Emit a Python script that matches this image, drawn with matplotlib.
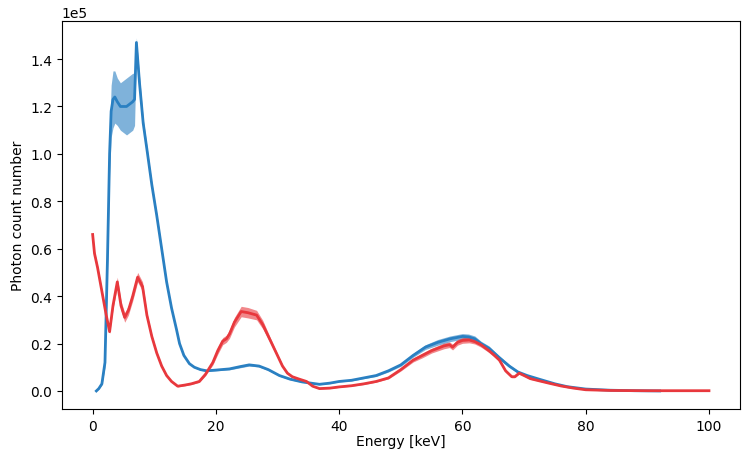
"""Mean photon spectra with +/- std band for two detector settings."""

import matplotlib

matplotlib.use("Agg")
import matplotlib.pyplot as plt
import numpy as np

# blue spectrum (keV, counts / 1e5, std / 1e5)
blue_energy = [0.6, 1.0, 1.5, 2.0, 2.4, 2.75, 3.0, 3.3, 3.6, 4.0, 4.5, 5.0, 5.5,
               6.0, 6.5, 6.8, 7.1, 7.6, 8.2, 8.8, 9.6, 10.4, 11.2, 12.0, 12.8,
               13.6, 14.1, 14.8, 15.7, 16.5, 17.5, 18.5, 20.0, 22.2, 24.0, 25.4,
               27.0, 28.5, 30.3, 32.0, 34.0, 36.8, 38.5, 40.0, 42.0, 44.0, 46.0,
               48.0, 50.0, 52.0, 54.0, 56.0, 58.0, 60.0, 61.0, 62.0, 63.0, 64.3,
               66.0, 67.6, 69.0, 70.5, 72.4, 75.0, 77.0, 80.0, 84.0, 88.0, 92.0]
blue_mean = [0.0, 0.01, 0.03, 0.12, 0.55, 1.0, 1.18, 1.23, 1.24, 1.22, 1.20, 1.20,
             1.20, 1.21, 1.22, 1.23, 1.47, 1.30, 1.13, 1.02, 0.87, 0.74, 0.60,
             0.46, 0.35, 0.26, 0.2, 0.15, 0.115, 0.10, 0.09, 0.085, 0.088, 0.093,
             0.103, 0.11, 0.105, 0.09, 0.065, 0.05, 0.038, 0.028, 0.033, 0.04,
             0.045, 0.055, 0.065, 0.085, 0.11, 0.15, 0.185, 0.205, 0.22, 0.23,
             0.228, 0.22, 0.20, 0.18, 0.14, 0.105, 0.08, 0.065, 0.05, 0.03, 0.018,
             0.008, 0.003, 0.001, 0.0]
blue_std = [0.0, 0.002, 0.005, 0.02, 0.05, 0.08, 0.11, 0.12, 0.11, 0.10, 0.10,
            0.11, 0.12, 0.12, 0.12, 0.11, 0.02, 0.03, 0.02, 0.015, 0.01, 0.01,
            0.008, 0.006, 0.005, 0.004, 0.004, 0.003, 0.003, 0.003, 0.003, 0.003,
            0.003, 0.004, 0.005, 0.005, 0.004, 0.004, 0.003, 0.003, 0.002, 0.002,
            0.002, 0.002, 0.003, 0.003, 0.004, 0.005, 0.006, 0.008, 0.01, 0.012,
            0.012, 0.012, 0.012, 0.012, 0.01, 0.01, 0.008, 0.006, 0.005, 0.004,
            0.003, 0.002, 0.001, 0.001, 0.0, 0.0, 0.0]

# red spectrum
red_energy = [0.0, 0.3, 0.8, 1.5, 2.2, 2.75, 3.3, 4.0, 4.6, 5.2, 5.8, 6.5, 7.3,
              8.1, 8.8, 9.6, 10.4, 11.2, 12.0, 12.8, 13.8, 15.0, 16.0, 17.3,
              18.3, 19.5, 20.3, 21.1, 21.7, 22.2, 23.0, 24.1, 25.2, 26.6, 27.6,
              28.7, 29.8, 30.8, 31.6, 32.4, 33.5, 34.7, 35.7, 36.8, 38.5, 40.0,
              42.0, 44.0, 46.0, 48.0, 50.0, 52.0, 53.5, 55.0, 57.0, 57.9, 58.4,
              59.2, 60.0, 61.1, 62.0, 63.0, 64.3, 65.2, 66.0, 67.0, 68.0, 68.5,
              69.2, 70.0, 71.0, 72.4, 74.0, 76.0, 78.0, 80.0, 84.0, 90.0, 95.0,
              100.0]
red_mean = [0.66, 0.58, 0.52, 0.42, 0.32, 0.25, 0.36, 0.46, 0.36, 0.31, 0.34,
            0.40, 0.48, 0.44, 0.32, 0.23, 0.16, 0.105, 0.065, 0.04, 0.02, 0.025,
            0.03, 0.04, 0.07, 0.12, 0.17, 0.21, 0.22, 0.24, 0.29, 0.335, 0.33,
            0.32, 0.28, 0.22, 0.16, 0.105, 0.075, 0.06, 0.05, 0.04, 0.02, 0.01,
            0.012, 0.017, 0.022, 0.03, 0.04, 0.055, 0.09, 0.13, 0.15, 0.17, 0.19,
            0.195, 0.185, 0.205, 0.213, 0.215, 0.208, 0.195, 0.17, 0.15, 0.13,
            0.085, 0.06, 0.06, 0.075, 0.065, 0.052, 0.043, 0.033, 0.021, 0.012,
            0.005, 0.002, 0.001, 0.001, 0.001]
red_std = [0.01, 0.01, 0.01, 0.008, 0.008, 0.008, 0.015, 0.02, 0.02, 0.02, 0.02,
           0.02, 0.02, 0.02, 0.01, 0.008, 0.006, 0.005, 0.004, 0.003, 0.003,
           0.003, 0.003, 0.004, 0.006, 0.01, 0.015, 0.015, 0.015, 0.018, 0.02,
           0.022, 0.022, 0.02, 0.018, 0.012, 0.008, 0.006, 0.005, 0.004, 0.003,
           0.003, 0.002, 0.002, 0.002, 0.002, 0.002, 0.003, 0.003, 0.004, 0.006,
           0.008, 0.01, 0.01, 0.012, 0.012, 0.012, 0.012, 0.012, 0.012, 0.01,
           0.01, 0.008, 0.008, 0.006, 0.005, 0.004, 0.004, 0.004, 0.003, 0.003,
           0.002, 0.002, 0.001, 0.001, 0.0, 0.0, 0.0, 0.0, 0.0]

BLUE = "#2a80c2"
RED = "#e8383d"


def main() -> None:
    fig = plt.figure(figsize=(7.45, 4.52), dpi=100)
    ax = fig.add_axes([0.083, 0.093, 0.91, 0.858])

    for e, m, s, c in [(blue_energy, blue_mean, blue_std, BLUE),
                       (red_energy, red_mean, red_std, RED)]:
        e = np.asarray(e)
        m = np.asarray(m) * 1e5
        s = np.asarray(s) * 1e5
        ax.fill_between(e, m - s, m + s, color=c, alpha=0.6, lw=0)
        ax.plot(e, m, color=c, lw=2)

    ax.set_xlim(-5, 105)
    ax.set_ylim(-0.076e5, 1.56e5)
    ax.set_xlabel("Energy [keV]", labelpad=1)
    ax.set_ylabel("Photon count number")
    ax.ticklabel_format(axis="y", style="sci", scilimits=(0, 0))

    fig.savefig("out.png", dpi=100)


if __name__ == "__main__":
    main()
